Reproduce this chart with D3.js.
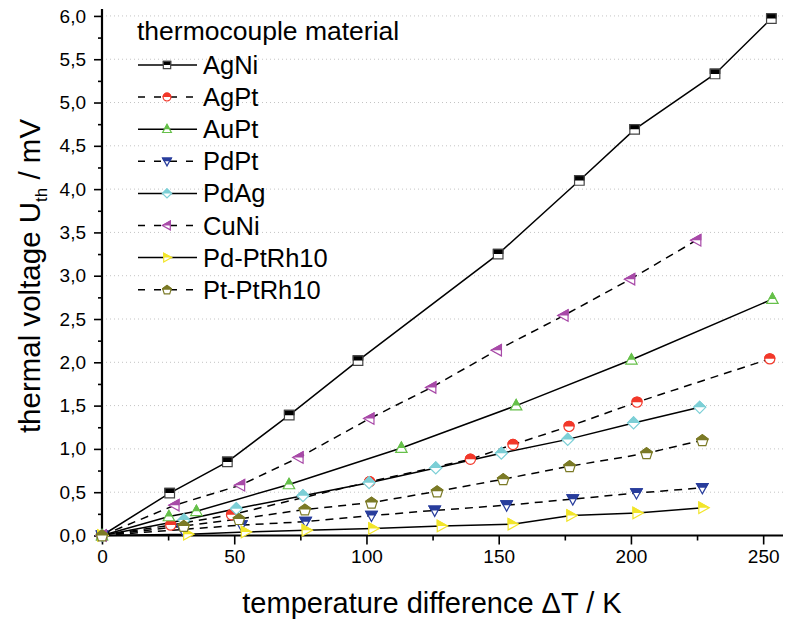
<!DOCTYPE html>
<html>
<head>
<meta charset="utf-8">
<script src="https://cdnjs.cloudflare.com/ajax/libs/d3/7.8.5/d3.min.js"></script>
<style>
body { margin: 0; background: #fff; }
text { font-family: "Liberation Sans", Arial, sans-serif; fill: #000; }
</style>
</head>
<body>
<svg id="chart" width="785" height="620"></svg>
<script>

// thermocouple data (dT in K, U in mV)
var names = ["AgNi", "AgPt", "AuPt", "PdPt", "PdAg", "CuNi", "Pd-PtRh10", "Pt-PtRh10"];

var agniT = [0, 25.6, 47.4, 70.8, 96.8, 149.8, 180.5, 201.4, 231.8, 253.1];
var agniU = [0, 0.49, 0.85, 1.39, 2.02, 3.25, 4.10, 4.69, 5.33, 5.97];

var agptT = [0, 26.0, 49.0, 101.2, 139.3, 155.4, 176.6, 202.3, 252.5];
var agptU = [0, 0.12, 0.24, 0.62, 0.88, 1.05, 1.26, 1.54, 2.04];

var auptT = [0, 25.3, 35.7, 70.7, 113.2, 156.6, 200.2, 253.5];
var auptU = [0, 0.22, 0.28, 0.59, 1.01, 1.50, 2.03, 2.73];

var pdptT = [0, 30.5, 52.7, 77.0, 101.9, 125.8, 153.0, 178.0, 202.1, 227.0];
var pdptU = [0, 0.07, 0.12, 0.16, 0.23, 0.29, 0.35, 0.42, 0.49, 0.55];

var pdagT = [0, 31.0, 50.8, 76.0, 101.0, 126.2, 151.0, 176.1, 201.0, 226.0];
var pdagU = [0, 0.18, 0.31, 0.46, 0.61, 0.78, 0.95, 1.11, 1.30, 1.48];

var cuniT = [0, 27.5, 52.3, 74.4, 101.2, 124.6, 149.4, 174.6, 199.8, 224.8];
var cuniU = [0, 0.35, 0.58, 0.90, 1.35, 1.71, 2.14, 2.54, 2.96, 3.41];

var pdrhT = [0, 32.5, 54.3, 77.3, 102.5, 128.4, 155.2, 177.4, 202.4, 227.3];
var pdrhU = [0, 0.015, 0.04, 0.06, 0.08, 0.11, 0.13, 0.23, 0.26, 0.32];

var ptrhT = [0, 30.9, 51.8, 76.7, 101.9, 126.7, 151.7, 176.8, 205.9, 227.0];
var ptrhU = [0, 0.11, 0.19, 0.30, 0.38, 0.51, 0.65, 0.80, 0.95, 1.10];

var xTicks      = [0, 50, 100, 150, 200, 250];
var xMinorTicks = [25, 75, 125, 175, 225];
var yTicks      = [0, 0.5, 1, 1.5, 2, 2.5, 3, 3.5, 4, 4.5, 5, 5.5, 6];
var yMinorTicks = [0.25, 0.75, 1.25, 1.75, 2.25, 2.75, 3.25, 3.75, 4.25, 4.75, 5.25, 5.75];

var colors  = ["#000000", "#f2382a", "#66c04a", "#283d9c", "#7ccfd6", "#a84aa8", "#f2e52a", "#7b7a26"];
var shapes  = ["square", "circle", "up", "down", "diamond", "left", "right", "pentagon"];
var dashed  = [false, true, false, true, false, true, false, true];

function pairs(t, u) {
    var out = [];
    for (var kk = 0; kk < t.length; kk++) {
        out.push({t: t[kk], u: u[kk]});
    }
    return out;
}

var series = [
    pairs(agniT, agniU), pairs(agptT, agptU), pairs(auptT, auptU), pairs(pdptT, pdptU),
    pairs(pdagT, pdagU), pairs(cuniT, cuniU), pairs(pdrhT, pdrhU), pairs(ptrhT, ptrhU)
];

function shapePath(type, r) {
    var h;
    if (type == "square") {
        h = r * 0.8;
        return "M" + (-h) + "," + (-h) + "H" + h + "V" + h + "H" + (-h) + "Z";
    }
    if (type == "circle") {
        h = r * 0.85;
        return "M" + (-h) + ",0A" + h + "," + h + " 0 1 1 " + h + ",0A" + h + "," + h + " 0 1 1 " + (-h) + ",0Z";
    }
    if (type == "up")    return "M0," + (-r) + "L" + (r * 0.95) + "," + (r * 0.72) + "L" + (-r * 0.95) + "," + (r * 0.72) + "Z";
    if (type == "down")  return "M0," + r + "L" + (r * 0.95) + "," + (-r * 0.72) + "L" + (-r * 0.95) + "," + (-r * 0.72) + "Z";
    if (type == "left")  return "M" + (-r) + ",0L" + (r * 0.72) + "," + (-r * 0.95) + "L" + (r * 0.72) + "," + (r * 0.95) + "Z";
    if (type == "right") return "M" + r + ",0L" + (-r * 0.72) + "," + (-r * 0.95) + "L" + (-r * 0.72) + "," + (r * 0.95) + "Z";
    if (type == "diamond") return "M0," + (-r) + "L" + r + ",0L0," + r + "L" + (-r) + ",0Z";
    // pentagon
    var pts = [];
    for (var kk = 0; kk < 5; kk++) {
        var a = -Math.PI / 2 + kk * 2 * Math.PI / 5;
        pts.push((r * Math.cos(a)).toFixed(2) + "," + (r * Math.sin(a) + r * 0.1).toFixed(2));
    }
    return "M" + pts.join("L") + "Z";
}

// half filled marker: white body, coloured outline, top half filled
function drawMarker(g, type, color, r) {
    var d = shapePath(type, r);
    var edge = (color == "#000000") ? "#444" : color;
    g.append("path").attr("d", d).attr("fill", "#fff").attr("stroke", edge).attr("stroke-width", 1.2);
    g.append("path").attr("d", d).attr("fill", color).attr("stroke", edge).attr("stroke-width", 1.2)
        .attr("clip-path", "url(#tophalf)");
}

var svg = d3.select("#chart");

svg.append("defs").append("clipPath").attr("id", "tophalf")
    .append("rect").attr("x", -20).attr("y", -20).attr("width", 40).attr("height", 20);

var xScale = d3.scaleLinear().domain([0, 257.5]).range([102, 783]);
var yScale = d3.scaleLinear().domain([0, 6.08]).range([535.5, 9]);

// grid
svg.append("g").selectAll("line")
    .data(yTicks.slice(1))
    .enter()
    .append("line")
    .attr("x1", xScale(0)).attr("x2", 785)
    .attr("y1", function(d) { return yScale(d); })
    .attr("y2", function(d) { return yScale(d); })
    .attr("stroke", "#c4c4c4").attr("stroke-width", 1).attr("stroke-dasharray", "1,3");

var fmt = function(d) { return d3.format(".1f")(d).replace(".", ","); };

// axes
var gx = svg.append("g").attr("transform", "translate(0," + yScale(0) + ")")
    .call(d3.axisBottom(xScale).tickValues(xTicks).tickSize(9).tickPadding(5).tickFormat(d3.format("d")));
svg.append("g").attr("transform", "translate(0," + yScale(0) + ")")
    .call(d3.axisBottom(xScale).tickValues(xMinorTicks).tickSize(5).tickFormat(""))
    .select(".domain").remove();

var gy = svg.append("g").attr("transform", "translate(" + xScale(0) + ",0)")
    .call(d3.axisLeft(yScale).tickValues(yTicks).tickSize(8).tickPadding(8).tickFormat(fmt));
svg.append("g").attr("transform", "translate(" + xScale(0) + ",0)")
    .call(d3.axisLeft(yScale).tickValues(yMinorTicks).tickSize(4).tickFormat(""))
    .select(".domain").remove();

svg.selectAll(".domain").attr("stroke-width", 2.2).attr("d", null);
gx.select(".domain").attr("d", "M101," + 0 + "H783");
gy.select(".domain").attr("d", "M0,9V537");
svg.selectAll(".tick line").attr("stroke-width", 1.6);
svg.selectAll(".tick text").style("font-size", "19px").attr("fill", "#000");

// lines
var line = d3.line()
    .x(function(d) { return xScale(d.t); })
    .y(function(d) { return yScale(d.u); });

var gl = svg.append("g");
for (var kk = 0; kk < series.length; kk++) {
    gl.append("path")
        .attr("d", line(series[kk]))
        .attr("fill", "none")
        .attr("stroke", "#000")
        .attr("stroke-width", 1.5)
        .attr("stroke-dasharray", dashed[kk] ? "8,6" : null);
}

// markers
for (var kk = 0; kk < series.length; kk++) {
    var gm = svg.append("g");
    for (var jj = 0; jj < series[kk].length; jj++) {
        var p = series[kk][jj];
        var g = gm.append("g").attr("transform", "translate(" + xScale(p.t) + "," + yScale(p.u) + ")");
        drawMarker(g, shapes[kk], colors[kk], 6);
    }
}

// legend
var leg = svg.append("g");
leg.append("text").attr("x", 137).attr("y", 40).style("font-size", "26.5px").text("thermocouple material");
for (var kk = 0; kk < names.length; kk++) {
    var yy = 65 + kk * 32.1;
    leg.append("line").attr("x1", 138).attr("x2", 197).attr("y1", yy).attr("y2", yy)
        .attr("stroke", "#000").attr("stroke-width", 1.5)
        .attr("stroke-dasharray", dashed[kk] ? "7,9" : null);
    var lg = leg.append("g").attr("transform", "translate(167," + yy + ")");
    drawMarker(lg, shapes[kk], colors[kk], 4.6);
    leg.append("text").attr("x", 203).attr("y", yy + 9).style("font-size", "25.5px").text(names[kk]);
}

// axis titles
svg.append("text")
    .attr("x", 432).attr("y", 613)
    .attr("text-anchor", "middle")
    .style("font-size", "29px")
    .text("temperature difference \u0394T / K");

var yl = svg.append("text")
    .attr("transform", "translate(40,276) rotate(-90)")
    .attr("text-anchor", "middle")
    .style("font-size", "29.5px");
yl.append("tspan").text("thermal voltage U");
yl.append("tspan").attr("dy", 7).style("font-size", "17px").text("th");
yl.append("tspan").attr("dy", -7).text(" / mV");

</script>
</body>
</html>
